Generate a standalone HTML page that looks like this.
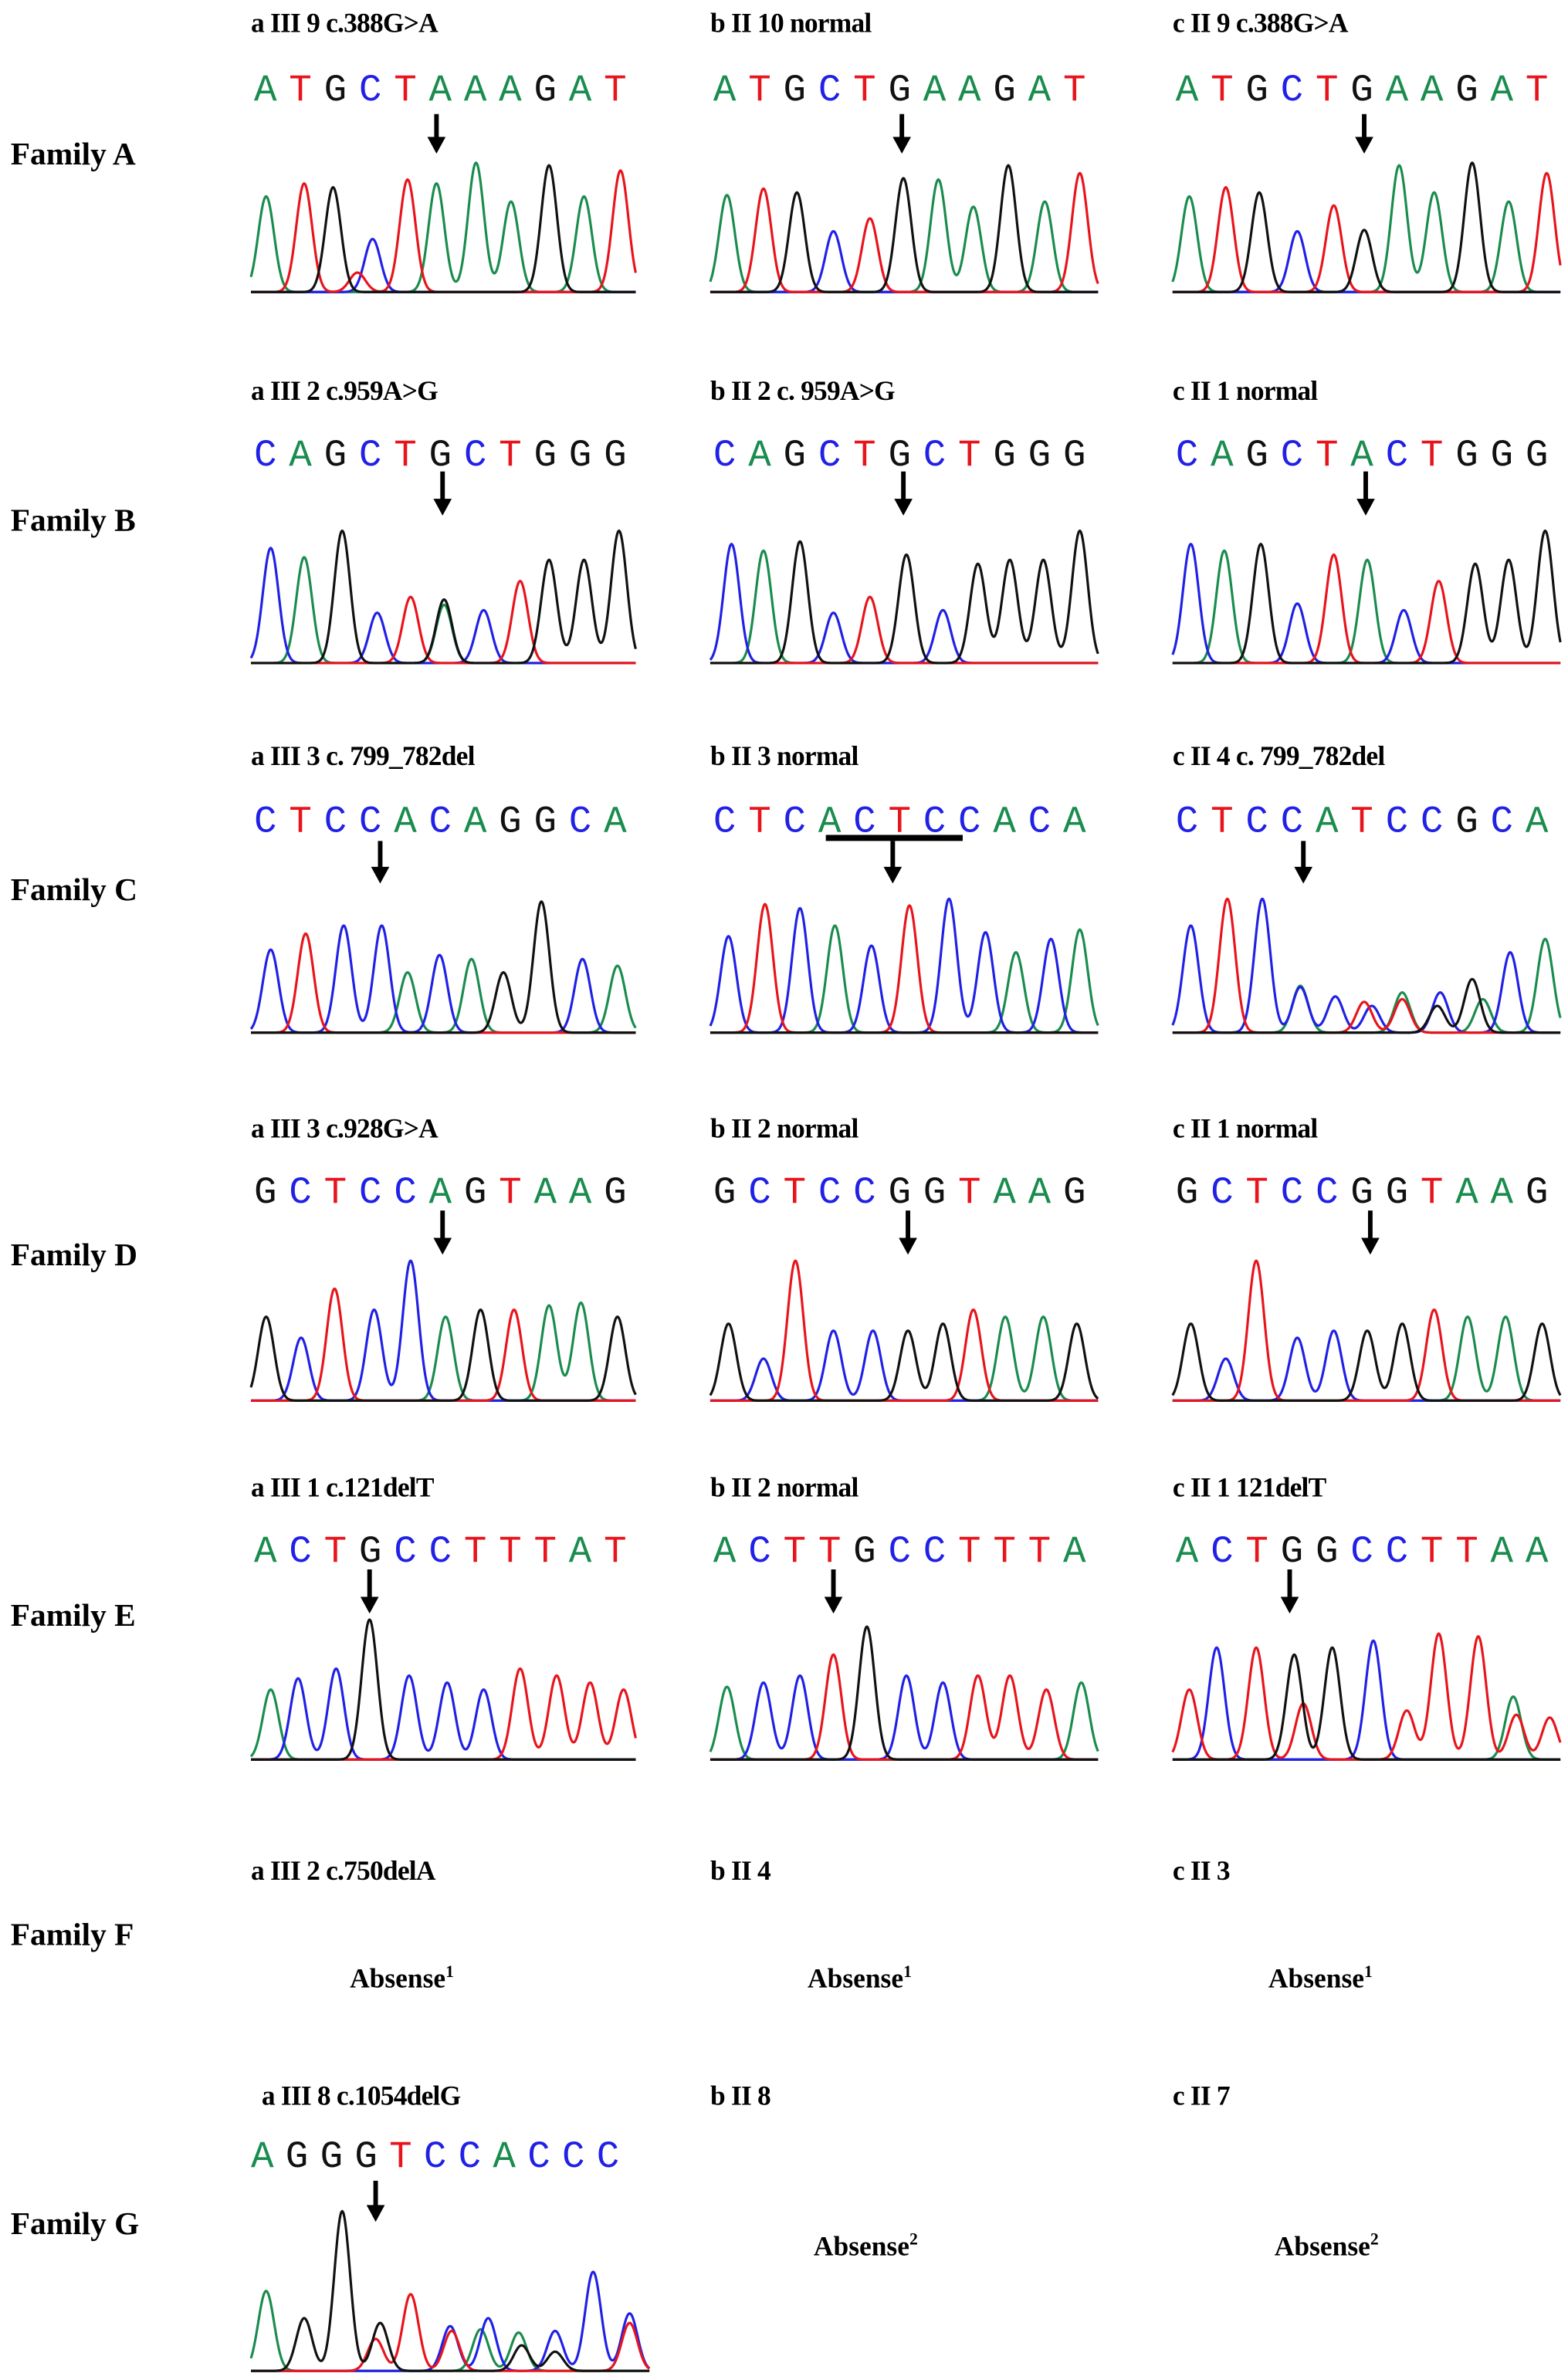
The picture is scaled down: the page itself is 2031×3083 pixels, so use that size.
<!DOCTYPE html>
<html><head><meta charset="utf-8">
<style>
html,body{margin:0;padding:0;background:#fff;}
svg{display:block;}
.fam{font-family:"Liberation Serif",serif;font-weight:bold;font-size:21px;fill:#000;}
.ttl{font-family:"Liberation Serif",serif;font-weight:bold;font-size:18px;fill:#000;letter-spacing:-0.4px;}
.seq{font-family:"Liberation Mono",monospace;font-size:25px;}
.abs{font-family:"Liberation Serif",serif;font-weight:bold;font-size:18px;fill:#000;}
</style></head>
<body>
<svg id="fig" width="2031" height="3083" viewBox="0 0 1031 1565" xmlns="http://www.w3.org/2000/svg"></svg>
<script>
// ---- data ----
const families = ["Family A","Family B","Family C","Family D","Family E","Family F","Family G"];
const titlesA = ["a III 9 c.388G>A","b II 10 normal","c II 9 c.388G>A"];
const titlesB = ["a III 2 c.959A>G","b II 2 c. 959A>G","c II 1 normal"];
const titlesC = ["a III 3 c. 799_782del","b II 3 normal","c II 4 c. 799_782del"];
const titlesD = ["a III 3 c.928G>A","b II 2 normal","c II 1 normal"];
const titlesE = ["a III 1 c.121delT","b II 2 normal","c II 1 121delT"];
const titlesF = ["a III 2 c.750delA","b II 4","c II 3"];
const titlesG = ["a III 8 c.1054delG","b II 8","c II 7"];
const seqA = ["ATGCTAAAGAT","ATGCTGAAGAT","ATGCTGAAGAT"];
const seqB = ["CAGCTGCTGGG","CAGCTGCTGGG","CAGCTACTGGG"];
const seqC = ["CTCCACAGGCA","CTCACTCCACA","CTCCATCCGCA"];
const seqD = ["GCTCCAGTAAG","GCTCCGGTAAG","GCTCCGGTAAG"];
const seqE = ["ACTGCCTTTAT","ACTTGCCTTTA","ACTGGCCTTAA"];
const seqG = ["AGGGTCCACCC"];
// peaks: [base, position along trace (px from panel start), relative height]
const peaksAa = [["A",10,.74],["T",35,.84],["G",54,.81],["C",80,.41],["T",70,.15],["T",103,.87],["A",122,.84],["A",148,1],["A",171,.7],["G",196,.98],["A",219,.74],["T",243,.94]];
const peaksAb = [["A",11,.75],["T",35,.8],["G",57,.77],["C",81,.47],["T",105,.57],["G",127,.88],["A",150,.87],["A",173,.66],["G",196,.98],["A",220,.7],["T",243,.92]];
const peaksAc = [["A",11,.74],["T",35,.81],["G",57,.77],["C",82,.47],["T",106,.67],["G",126,.48],["A",149,.98],["A",172,.77],["G",197,1],["A",221,.7],["T",246,.92]];
const peaksBa = [["C",13,.87],["A",35,.8],["G",60,1],["C",83,.38],["T",105,.5],["G",127,.48],["A",127,.44],["C",153,.4],["T",177,.62],["G",196,.78],["G",219,.78],["G",242,1]];
const peaksBb = [["C",14,.9],["A",35,.85],["G",59,.92],["C",81,.38],["T",105,.5],["G",129,.82],["C",153,.4],["G",176,.75],["G",197,.78],["G",219,.78],["G",243,1]];
const peaksBc = [["C",12,.9],["A",34,.85],["G",58,.9],["C",82,.45],["T",106,.82],["A",128,.78],["C",152,.4],["T",175,.62],["G",199,.75],["G",221,.78],["G",245,1]];
const peaksCa = [["C",13,.62],["T",36,.74],["C",61,.8],["C",86,.8],["A",103,.45],["C",124,.58],["A",145,.55],["G",166,.45],["G",191,.98],["C",218,.55],["A",241,.5]];
const peaksCb = [["C",12,.72],["T",36,.96],["C",59,.93],["A",82,.8],["C",106,.65],["T",131,.95],["C",157,1],["C",181,.75],["A",201,.6],["C",224,.7],["A",243,.77]];
const peaksCc = [["C",12,.8],["T",36,1],["C",59,1],["C",84,.34],["A",84,.35],["C",107,.27],["T",126,.23],["C",131,.2],["A",151,.3],["T",151,.25],["C",176,.3],["G",174,.2],["G",197,.4],["A",204,.25],["C",222,.6],["A",245,.7]];
const peaksDa = [["G",10,.6],["C",33,.45],["T",55,.8],["C",81,.65],["C",105,1],["A",128,.6],["G",151,.65],["T",173,.65],["A",196,.68],["A",217,.7],["G",241,.6]];
const peaksDb = [["G",12,.55],["C",35,.3],["T",56,1],["C",81,.5],["C",107,.5],["G",130,.5],["G",153,.55],["T",173,.65],["A",194,.6],["A",219,.6],["G",241,.55]];
const peaksDc = [["G",12,.55],["C",35,.3],["T",55,1],["C",82,.45],["C",106,.5],["G",128,.5],["G",151,.55],["T",172,.65],["A",194,.6],["A",219,.6],["G",243,.55]];
const peaksEa = [["A",13,.5],["C",31,.58],["C",56,.65],["G",78,1],["C",104,.6],["C",129,.55],["C",153,.5],["T",177,.65],["T",201,.6],["T",223,.55],["T",245,.5]];
const peaksEb = [["A",11,.52],["C",35,.55],["C",59,.6],["T",81,.75],["G",103,.95],["C",129,.6],["C",153,.55],["T",176,.6],["T",197,.6],["T",221,.5],["A",244,.55]];
const peaksEc = [["T",11,.5],["C",29,.8],["T",55,.8],["G",80,.75],["T",86,.4],["G",105,.8],["C",132,.85],["T",154,.35],["T",175,.9],["T",201,.88],["A",224,.45],["T",226,.32],["T",248,.3]];
const peaksGa = [["A",10,.5],["G",35,.33],["G",60,1],["G",85,.3],["T",82,.2],["T",105,.48],["C",131,.28],["T",132,.25],["C",156,.33],["A",151,.26],["A",176,.24],["G",178,.16],["C",200,.25],["G",200,.12],["C",225,.62],["C",249,.36],["T",249,.3]];

// ---- layout ----
const colX = [165,467,771];
const colors = {A:"#1a8c4e",T:"#e8141c",G:"#111111",C:"#2020e6"};
const NS = "http://www.w3.org/2000/svg";
const svg = document.getElementById("fig");
function mk(tag, attrs, parent){
  const e = document.createElementNS(NS, tag);
  for (const k in attrs) e.setAttribute(k, attrs[k]);
  (parent||svg).appendChild(e);
  return e;
}
function addText(str, x, y, cls, parent){
  const t = mk("text",{x:x,y:y,class:cls},parent);
  t.textContent = str;
  return t;
}
function drawTitles(titles, y, offsets){
  titles.forEach((s,i)=>{
    const t = addText(s, colX[i]+(offsets?offsets[i]:0), y, "ttl");
    
    
  });
}
function drawSeq(seqs, y, width){
  seqs.forEach((s,i)=>{
    const g = mk("g",{});
    
    
    const step = (width||253)/s.length;
    for (let k=0;k<s.length;k++){
      const t = addText(s[k], colX[i]+2+k*step, y, "seq", g);
      t.setAttribute("fill", colors[s[k]]);
    }
  });
}
function arrow(x, y1, y2){
  const g = mk("g",{});
  
  
  mk("line",{x1:x,y1:y1,x2:x,y2:y2-9,stroke:"#000","stroke-width":3},g);
  mk("polygon",{points:`${x-6},${y2-11} ${x+6},${y2-11} ${x},${y2}`,fill:"#000"},g);
}
function trace(peaks, x0, width, base, h, sigma){
  const g = mk("g",{fill:"none","stroke-width":1.6,"stroke-linejoin":"round"});
  
  
  const order = ["A","C","T","G"];
  order.forEach(b=>{
    const ps = peaks.filter(p=>p[0]===b);
    let d = "";
    for (let x=0;x<=width;x+=0.5){
      let v = 0;
      ps.forEach(p=>{ const dx=(x-p[1])/sigma; v += p[2]*Math.exp(-dx*dx/2); });
      const y = base - 1 - v*h;
      d += (x===0?"M":"L") + (x0+x).toFixed(1) + "," + y.toFixed(1);
    }
    mk("path",{d:d,stroke:colors[b]},g);
  });
}

// family labels
const famY = [108,349,592,832,1069,1279,1469];
families.forEach((f,i)=>{
  const t = addText(f, 7, famY[i], "fam");
  
  
});

// Row A
drawTitles(titlesA, 21);
drawSeq(seqA, 66);
arrow(287,75,101); arrow(593,75,101); arrow(897,75,101);
trace(peaksAa,165,253,193,85,5.2); trace(peaksAb,467,255,193,85,5.2); trace(peaksAc,771,255,193,85,5.2);

// Row B
drawTitles(titlesB, 263);
drawSeq(seqB, 306);
arrow(291,310,339); arrow(594,310,339); arrow(898,310,339);
trace(peaksBa,165,253,437,87,5.2); trace(peaksBb,467,255,437,87,5.2); trace(peaksBc,771,255,437,87,5.2);

// Row C
drawTitles(titlesC, 503);
drawSeq(seqC, 547);
const bar = mk("line",{x1:543,y1:551,x2:633,y2:551,stroke:"#000","stroke-width":4});


arrow(250,553,581); arrow(587,553,581); arrow(857,553,581);
trace(peaksCa,165,253,680,88,5.2); trace(peaksCb,467,255,680,88,5.2); trace(peaksCc,771,255,680,88,5.2);

// Row D
drawTitles(titlesD, 748);
drawSeq(seqD, 791);
arrow(291,796,825); arrow(597,796,825); arrow(901,796,825);
trace(peaksDa,165,253,922,92,5.2); trace(peaksDb,467,255,922,92,5.2); trace(peaksDc,771,255,922,92,5.2);

// Row E
drawTitles(titlesE, 984);
drawSeq(seqE, 1027);
arrow(243,1032,1061); arrow(548,1032,1061); arrow(848,1032,1061);
trace(peaksEa,165,253,1158,92,5.2); trace(peaksEb,467,255,1158,92,5.2); trace(peaksEc,771,255,1158,92,5.2);

// Row F
drawTitles(titlesF, 1236);
[[230,1307,"1"],[531,1307,"1"],[834,1307,"1"]].forEach(a=>{
  const t = mk("text",{x:a[0],y:a[1],class:"abs"});
  
  
  t.textContent = "Absense";
  const s = mk("tspan",{"font-size":"11","dy":"-7"},t); s.textContent = a[2];
});

// Row G
drawTitles(titlesG, 1384, [7,0,0]);
(function(){
  const g = mk("g",{});
  
  
  const s = seqG[0], step = 250/s.length;
  for (let k=0;k<s.length;k++){
    const t = addText(s[k], 165+k*step, 1425, "seq", g);
    t.setAttribute("font-size","27");
    t.setAttribute("fill", colors[s[k]]);
  }
})();
arrow(247,1434,1461);
trace(peaksGa,165,262,1560,105,5.2);
[[535,1483,"2"],[838,1483,"2"]].forEach(a=>{
  const t = mk("text",{x:a[0],y:a[1],class:"abs"});
  
  
  t.textContent = "Absense";
  const s = mk("tspan",{"font-size":"11","dy":"-7"},t); s.textContent = a[2];
});
</script>
</body></html>
